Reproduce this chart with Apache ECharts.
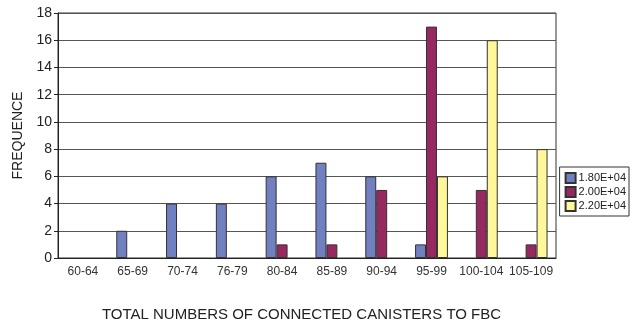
<!DOCTYPE html>
<html>
<head>
<meta charset="utf-8">
<script src="https://cdn.jsdelivr.net/npm/echarts@6/dist/echarts.min.js"></script>
<style>
  html, body { margin: 0; padding: 0; background: #fff; }
  #chart { width: 632px; height: 327px; }
</style>
</head>
<body>
<div id="chart"></div>
<script>
// Connected-canister count ranges (x categories)
const categories = ['60-64', '65-69', '70-74', '76-79', '80-84', '85-89', '90-94', '95-99', '100-104', '105-109'];

// Series names and frequencies per range
const seriesNames = ['1.80E+04', '2.00E+04', '2.20E+04'];
const freq18 = [0, 2, 4, 4, 6, 7, 6, 1, 0, 0];
const freq20 = [0, 0, 0, 0, 1, 1, 5, 17, 5, 1];
const freq22 = [0, 0, 0, 0, 0, 0, 0, 6, 16, 8];

const colors = ['#7080c0', '#962a60', '#fff79a'];
const font = 'Liberation Sans, Arial, sans-serif';

const chart = echarts.init(document.getElementById('chart'), null, { renderer: 'canvas' });

function makeSeries(name, values, color) {
  return {
    name: name,
    type: 'bar',
    data: values.map(v => (v === 0 ? null : v)),
    barGap: '0%',
    barCategoryGap: '34%',
    itemStyle: { color: color, borderColor: '#333', borderWidth: 1 },
    emphasis: { disabled: true }
  };
}

chart.setOption({
  animation: false,
  grid: {
    left: 58, right: 76, top: 13, bottom: 63,
    show: true, borderColor: '#333', borderWidth: 1, backgroundColor: 'transparent'
  },
  legend: {
    orient: 'vertical',
    right: 3, top: 167,
    icon: 'rect',
    itemWidth: 10, itemHeight: 10, itemGap: 2,
    padding: [5, 3, 4, 5],
    borderColor: '#333', borderWidth: 1,
    textStyle: { fontFamily: font, fontSize: 11, color: '#222', padding: [0, 0, 0, -2] },
    data: seriesNames
  },
  xAxis: {
    type: 'category',
    data: categories,
    name: 'TOTAL NUMBERS OF CONNECTED CANISTERS TO FBC',
    nameLocation: 'middle',
    nameGap: 49,
    nameTextStyle: { fontFamily: font, fontSize: 15, color: '#222', padding: [0, 11, 0, 0] },
    axisLine: { lineStyle: { color: '#222', width: 1 } },
    axisTick: { inside: true, length: 5, lineStyle: { color: '#222' } },
    axisLabel: { interval: 0, fontFamily: font, fontSize: 12, color: '#333', margin: 8 }
  },
  yAxis: {
    type: 'value',
    min: 0, max: 18, interval: 2,
    name: 'FREQUENCE',
    nameLocation: 'middle',
    nameGap: 33,
    nameTextStyle: { fontFamily: font, fontSize: 14, color: '#222' },
    axisLine: { show: true, lineStyle: { color: '#222', width: 1 } },
    axisTick: { show: true, length: 4, lineStyle: { color: '#222' } },
    axisLabel: { fontFamily: font, fontSize: 14, color: '#222', margin: 6 },
    splitLine: { lineStyle: { color: '#555', width: 1 } }
  },
  series: [
    makeSeries(seriesNames[0], freq18, colors[0]),
    makeSeries(seriesNames[1], freq20, colors[1]),
    makeSeries(seriesNames[2], freq22, colors[2])
  ]
});
</script>
</body>
</html>
